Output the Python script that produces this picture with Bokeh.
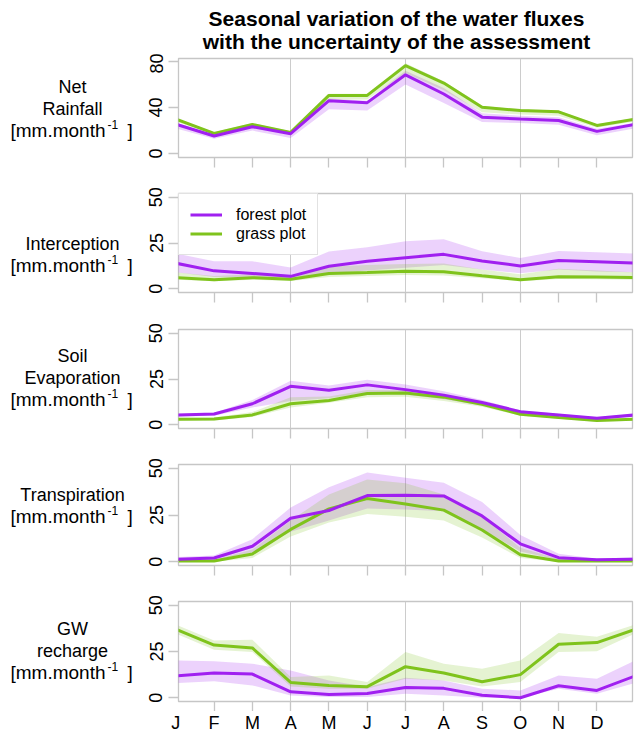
from bokeh.plotting import figure
from bokeh.models import Range1d, FixedTicker, Legend, LegendItem
from bokeh.layouts import column, row
from bokeh.core.properties import value
from bokeh.embed import file_html
from bokeh.resources import INLINE

months = ["J", "F", "M", "A", "M", "J", "J", "A", "S", "O", "N", "D"]
month_pos = list(range(1, 13))

# ---- Net Rainfall ----
net_forest = [25.5, 15.3, 23.3, 17.3, 46.0, 44.3, 68.5, 51.8, 31.7, 30.0, 28.8, 19.3]
net_forest_lo = [22.0, 13.0, 20.0, 13.5, 38.5, 37.5, 60.0, 44.0, 27.5, 26.5, 25.0, 16.0]
net_forest_hi = [27.0, 16.5, 24.5, 18.5, 48.0, 46.0, 72.0, 57.0, 35.0, 33.0, 31.5, 21.5]
net_grass = [30.0, 17.6, 25.3, 18.4, 50.6, 50.6, 76.5, 61.3, 40.3, 37.4, 36.3, 24.5]
net_grass_lo = [28.0, 16.5, 24.0, 17.0, 47.0, 47.0, 70.0, 55.0, 36.0, 34.0, 33.0, 22.5]
net_grass_hi = [31.0, 18.5, 26.5, 19.5, 52.0, 52.0, 78.5, 63.0, 41.5, 38.5, 37.5, 25.5]

# ---- Interception ----
int_forest = [14.0, 9.8, 8.4, 6.8, 12.3, 15.0, 17.0, 18.8, 15.2, 12.5, 15.5, 14.8]
int_forest_lo = [9.0, 6.5, 6.0, 5.3, 8.5, 10.0, 11.5, 13.0, 10.5, 8.5, 10.5, 9.5]
int_forest_hi = [19.3, 15.0, 15.0, 11.6, 20.4, 22.7, 25.9, 27.1, 20.5, 16.8, 20.7, 20.0]
int_grass = [6.1, 5.0, 6.1, 5.2, 8.4, 8.9, 9.6, 9.3, 7.1, 5.0, 6.6, 6.4]
int_grass_lo = [5.0, 4.2, 5.0, 4.3, 6.5, 7.0, 7.5, 7.3, 5.8, 4.2, 5.4, 5.2]
int_grass_hi = [9.0, 7.0, 8.0, 6.5, 12.0, 13.0, 13.5, 13.8, 10.5, 8.0, 11.0, 10.0]

# ---- Soil Evaporation ----
eva_forest = [5.4, 5.9, 11.5, 21.0, 18.9, 21.8, 19.2, 16.2, 12.2, 7.2, 5.4, 3.6]
eva_forest_lo = [4.5, 5.0, 9.5, 13.0, 14.5, 17.5, 16.5, 14.0, 10.5, 6.3, 4.7, 3.0]
eva_forest_hi = [6.0, 6.6, 13.5, 24.0, 21.4, 24.6, 22.0, 18.3, 13.5, 8.0, 6.0, 4.2]
eva_grass = [3.1, 3.2, 5.4, 11.5, 13.3, 17.1, 17.3, 15.1, 11.2, 5.8, 4.0, 2.3]
eva_grass_lo = [2.3, 2.4, 4.3, 9.5, 12.0, 15.0, 15.3, 13.0, 9.8, 5.0, 3.3, 1.7]
eva_grass_hi = [3.8, 4.0, 7.0, 15.0, 15.5, 19.0, 19.0, 16.5, 12.3, 6.6, 4.7, 3.0]

# ---- Transpiration ----
tra_forest = [1.3, 2.0, 8.3, 23.3, 27.4, 35.4, 35.6, 35.2, 24.5, 9.6, 2.2, 1.1]
tra_forest_lo = [0.5, 1.0, 5.0, 16.0, 22.0, 28.5, 28.0, 27.0, 17.5, 5.5, 1.0, 0.5]
tra_forest_hi = [2.5, 3.4, 12.1, 29.0, 39.9, 47.7, 44.9, 42.2, 32.0, 14.3, 4.3, 1.6]
tra_grass = [0.4, 0.4, 4.2, 17.3, 28.3, 33.8, 30.9, 27.6, 17.0, 3.8, 0.4, 0.4]
tra_grass_lo = [0.0, 0.0, 2.0, 13.5, 21.0, 25.6, 24.0, 22.0, 13.0, 2.0, 0.0, 0.0]
tra_grass_hi = [1.0, 1.0, 6.5, 22.0, 36.0, 44.0, 42.0, 36.0, 24.0, 7.5, 1.5, 1.0]

# ---- GW recharge ----
gw_forest = [11.8, 13.4, 12.8, 3.2, 1.8, 2.3, 5.6, 5.1, 1.4, 0.0, 6.5, 4.0]
gw_forest_lo = [8.0, 9.0, 6.7, 1.3, 0.4, 0.4, 2.2, 1.3, 0.0, 0.0, 4.9, 2.2]
gw_forest_hi = [20.2, 19.7, 18.4, 14.8, 9.4, 5.8, 10.8, 9.4, 4.9, 4.0, 12.1, 10.3]
gw_grass = [37.0, 28.5, 26.9, 8.3, 6.7, 6.0, 16.8, 13.4, 8.7, 12.5, 28.9, 29.8]
gw_grass_lo = [34.7, 26.0, 24.7, 6.1, 4.9, 4.9, 10.3, 9.4, 6.1, 8.5, 24.7, 25.1]
gw_grass_hi = [39.5, 31.0, 31.4, 11.2, 12.1, 8.5, 24.7, 18.4, 15.7, 20.2, 35.0, 32.9]

title_lines = ["Seasonal variation of the water fluxes",
               "with the uncertainty of the assessment"]
legend_labels = ["forest plot", "grass plot"]
unit_text = "[mm.month"
unit_sup = "-1"
unit_close = "]"

FONT = "Liberation Sans"
PURPLE = "#A020F0"
GREEN = "#7FC31C"
GRID = "#cccccc"
FRAME = "#c6c6c6"

# page geometry (pixels)
PAGE_W = 636
LAB_W = 136          # width of the left text column
AX_W = 42            # border holding the y ticks / tick labels
FRAME_W = 454
RIGHT_W = PAGE_W - LAB_W - AX_W - FRAME_W
X0, X1 = 1.07, 12.93


def cyc(v):
    return list(v) + [v[0]]


xs = list(range(1, 14))


def text_fig(w, h, y_top, y_bottom, tb=0, bb=0):
    f = figure(title=None, frame_width=w, frame_height=h,
               min_border_left=0, min_border_right=0,
               min_border_top=tb, min_border_bottom=bb,
               x_range=Range1d(0, w), y_range=Range1d(y_bottom, y_top),
               x_axis_type=None, y_axis_type=None,
               output_backend="svg", toolbar_location=None)
    f.outline_line_color = None
    f.background_fill_color = "white"
    f.border_fill_color = "white"
    return f


panels = [
    dict(names=["Net", "Rainfall"], name_y=[86, 108], unit_y=130,
         yr=(-3.4, 82.7), yt=[0, 40, 80],
         f=net_forest, flo=net_forest_lo, fhi=net_forest_hi,
         g=net_grass, glo=net_grass_lo, ghi=net_grass_hi,
         top=53, tb=5, fh=99, bb=18),
    dict(names=["Interception"], name_y=[243], unit_y=265,
         yr=(-2, 52), yt=[0, 25, 50],
         f=int_forest, flo=int_forest_lo, fhi=int_forest_hi,
         g=int_grass, glo=int_grass_lo, ghi=int_grass_hi,
         top=175, tb=18, fh=99, bb=18),
    dict(names=["Soil", "Evaporation"], name_y=[355, 377], unit_y=399,
         yr=(-2, 52), yt=[0, 25, 50],
         f=eva_forest, flo=eva_forest_lo, fhi=eva_forest_hi,
         g=eva_grass, glo=eva_grass_lo, ghi=eva_grass_hi,
         top=310, tb=19, fh=99, bb=18),
    dict(names=["Transpiration"], name_y=[494], unit_y=516,
         yr=(-2, 52), yt=[0, 25, 50],
         f=tra_forest, flo=tra_forest_lo, fhi=tra_forest_hi,
         g=tra_grass, glo=tra_grass_lo, ghi=tra_grass_hi,
         top=446, tb=18, fh=101, bb=18),
    dict(names=["GW", "recharge"], name_y=[628, 650], unit_y=672,
         yr=(-2, 52), yt=[0, 25, 50],
         f=gw_forest, flo=gw_forest_lo, fhi=gw_forest_hi,
         g=gw_grass, glo=gw_grass_lo, ghi=gw_grass_hi,
         top=583, tb=18, fh=100, bb=10),
]

# ---- title ----
tf = text_fig(PAGE_W, 53, 0, 53)
tf.text(x=[396, 396], y=[18, 41], text=title_lines,
        text_font=value(FONT), text_font_size=value("21px"),
        text_font_style="bold", text_align="center", text_baseline="middle",
        text_color="black")

rows = []
for i, pd_ in enumerate(panels):
    f_top = pd_["top"] + pd_["tb"]
    f_bot = f_top + pd_["fh"]

    # left text column (frame aligned with the panel frame; page y coordinates)
    lf = text_fig(LAB_W, pd_["fh"], f_top, f_bot, pd_["tb"], pd_["bb"])
    lf.text(x=[72] * len(pd_["names"]), y=pd_["name_y"],
            text=pd_["names"], text_font=value(FONT), text_font_size=value("18px"),
            text_align="center", text_baseline="middle", text_color="black")
    uy = pd_["unit_y"]
    lf.text(x=[10], y=[uy], text=[unit_text], text_font=value(FONT),
            text_font_size=value("19px"), text_align="left",
            text_baseline="middle", text_color="black")
    lf.text(x=[107], y=[uy - 6], text=[unit_sup], text_font=value(FONT),
            text_font_size=value("12px"), text_align="left",
            text_baseline="middle", text_color="black")
    lf.text(x=[127], y=[uy], text=[unit_close], text_font=value(FONT),
            text_font_size=value("19px"), text_align="left",
            text_baseline="middle", text_color="black")

    p = figure(title=None, frame_width=FRAME_W, frame_height=pd_["fh"],
               min_border_left=AX_W, min_border_right=RIGHT_W,
               min_border_top=pd_["tb"], min_border_bottom=pd_["bb"],
               x_range=Range1d(X0, X1), y_range=Range1d(*pd_["yr"]),
               output_backend="svg", toolbar_location=None)
    p.background_fill_color = "white"
    p.border_fill_color = "white"
    p.outline_line_color = FRAME
    p.outline_line_width = 1.3

    p.xgrid.ticker = FixedTicker(ticks=[4, 7, 10])
    p.xgrid.grid_line_color = GRID
    p.xgrid.grid_line_width = 1
    p.ygrid.grid_line_color = None

    xa = p.xaxis[0]
    xa.ticker = FixedTicker(ticks=month_pos[1:])
    xa.axis_line_color = None
    xa.major_tick_out = 10
    xa.major_tick_in = 0
    xa.major_tick_line_color = FRAME
    xa.major_tick_line_width = 1.3
    xa.minor_tick_line_color = None
    xa.major_label_overrides = {m: "" for m in month_pos[1:]}
    xa.major_label_standoff = 0

    ya = p.yaxis[0]
    ya.ticker = FixedTicker(ticks=pd_["yt"])
    ya.axis_line_color = None
    ya.major_tick_out = 10
    ya.major_tick_in = 0
    ya.major_tick_line_color = FRAME
    ya.major_tick_line_width = 1.3
    ya.minor_tick_line_color = None
    ya.major_label_orientation = "vertical"
    ya.major_label_text_font = FONT
    ya.major_label_text_font_size = "18px"
    ya.major_label_text_color = "black"
    ya.major_label_standoff = 6

    p.varea(x=xs, y1=cyc(pd_["flo"]), y2=cyc(pd_["fhi"]),
            fill_color=PURPLE, fill_alpha=0.2)
    p.varea(x=xs, y1=cyc(pd_["glo"]), y2=cyc(pd_["ghi"]),
            fill_color=GREEN, fill_alpha=0.2)
    gl = p.line(xs, cyc(pd_["g"]), line_color=GREEN, line_width=3)
    fl = p.line(xs, cyc(pd_["f"]), line_color=PURPLE, line_width=3)

    if i == 1:
        leg = Legend(items=[LegendItem(label=legend_labels[0], renderers=[fl]),
                            LegendItem(label=legend_labels[1], renderers=[gl])],
                     location="top_left", margin=0, padding=11, spacing=0,
                     glyph_width=32, glyph_height=19, label_height=19,
                     label_standoff=14, label_text_font=FONT,
                     label_text_font_size="16px", label_text_color="black",
                     border_line_color=FRAME, border_line_width=1.3,
                     background_fill_color="white", background_fill_alpha=1.0)
        p.add_layout(leg)
    rows.append(row(lf, p, spacing=0))

# ---- month labels strip (same x scale as the panels) ----
scale = FRAME_W / (X1 - X0)
sx0 = X0 - (LAB_W + AX_W) / scale
sx1 = X1 + RIGHT_W / scale
sf = figure(title=None, frame_width=PAGE_W, frame_height=1, min_border=0,
            x_range=Range1d(sx0, sx1), y_range=Range1d(0, 1),
            y_axis_type=None, output_backend="svg", toolbar_location=None)
sf.outline_line_color = None
sf.xgrid.visible = False
sf.background_fill_color = "white"
sf.border_fill_color = "white"
sa = sf.xaxis[0]
sa.ticker = FixedTicker(ticks=month_pos)
sa.major_label_overrides = {m: months[m - 1] for m in month_pos}
sa.axis_line_color = None
sa.major_tick_out = 0
sa.major_tick_in = 0
sa.major_tick_line_color = None
sa.minor_tick_line_color = None
sa.major_label_standoff = 0
sa.major_label_text_font = FONT
sa.major_label_text_font_size = "18px"
sa.major_label_text_color = "black"

layout = column(tf, *rows, sf, spacing=0)
open("out.html", "w").write(file_html(layout, INLINE))
